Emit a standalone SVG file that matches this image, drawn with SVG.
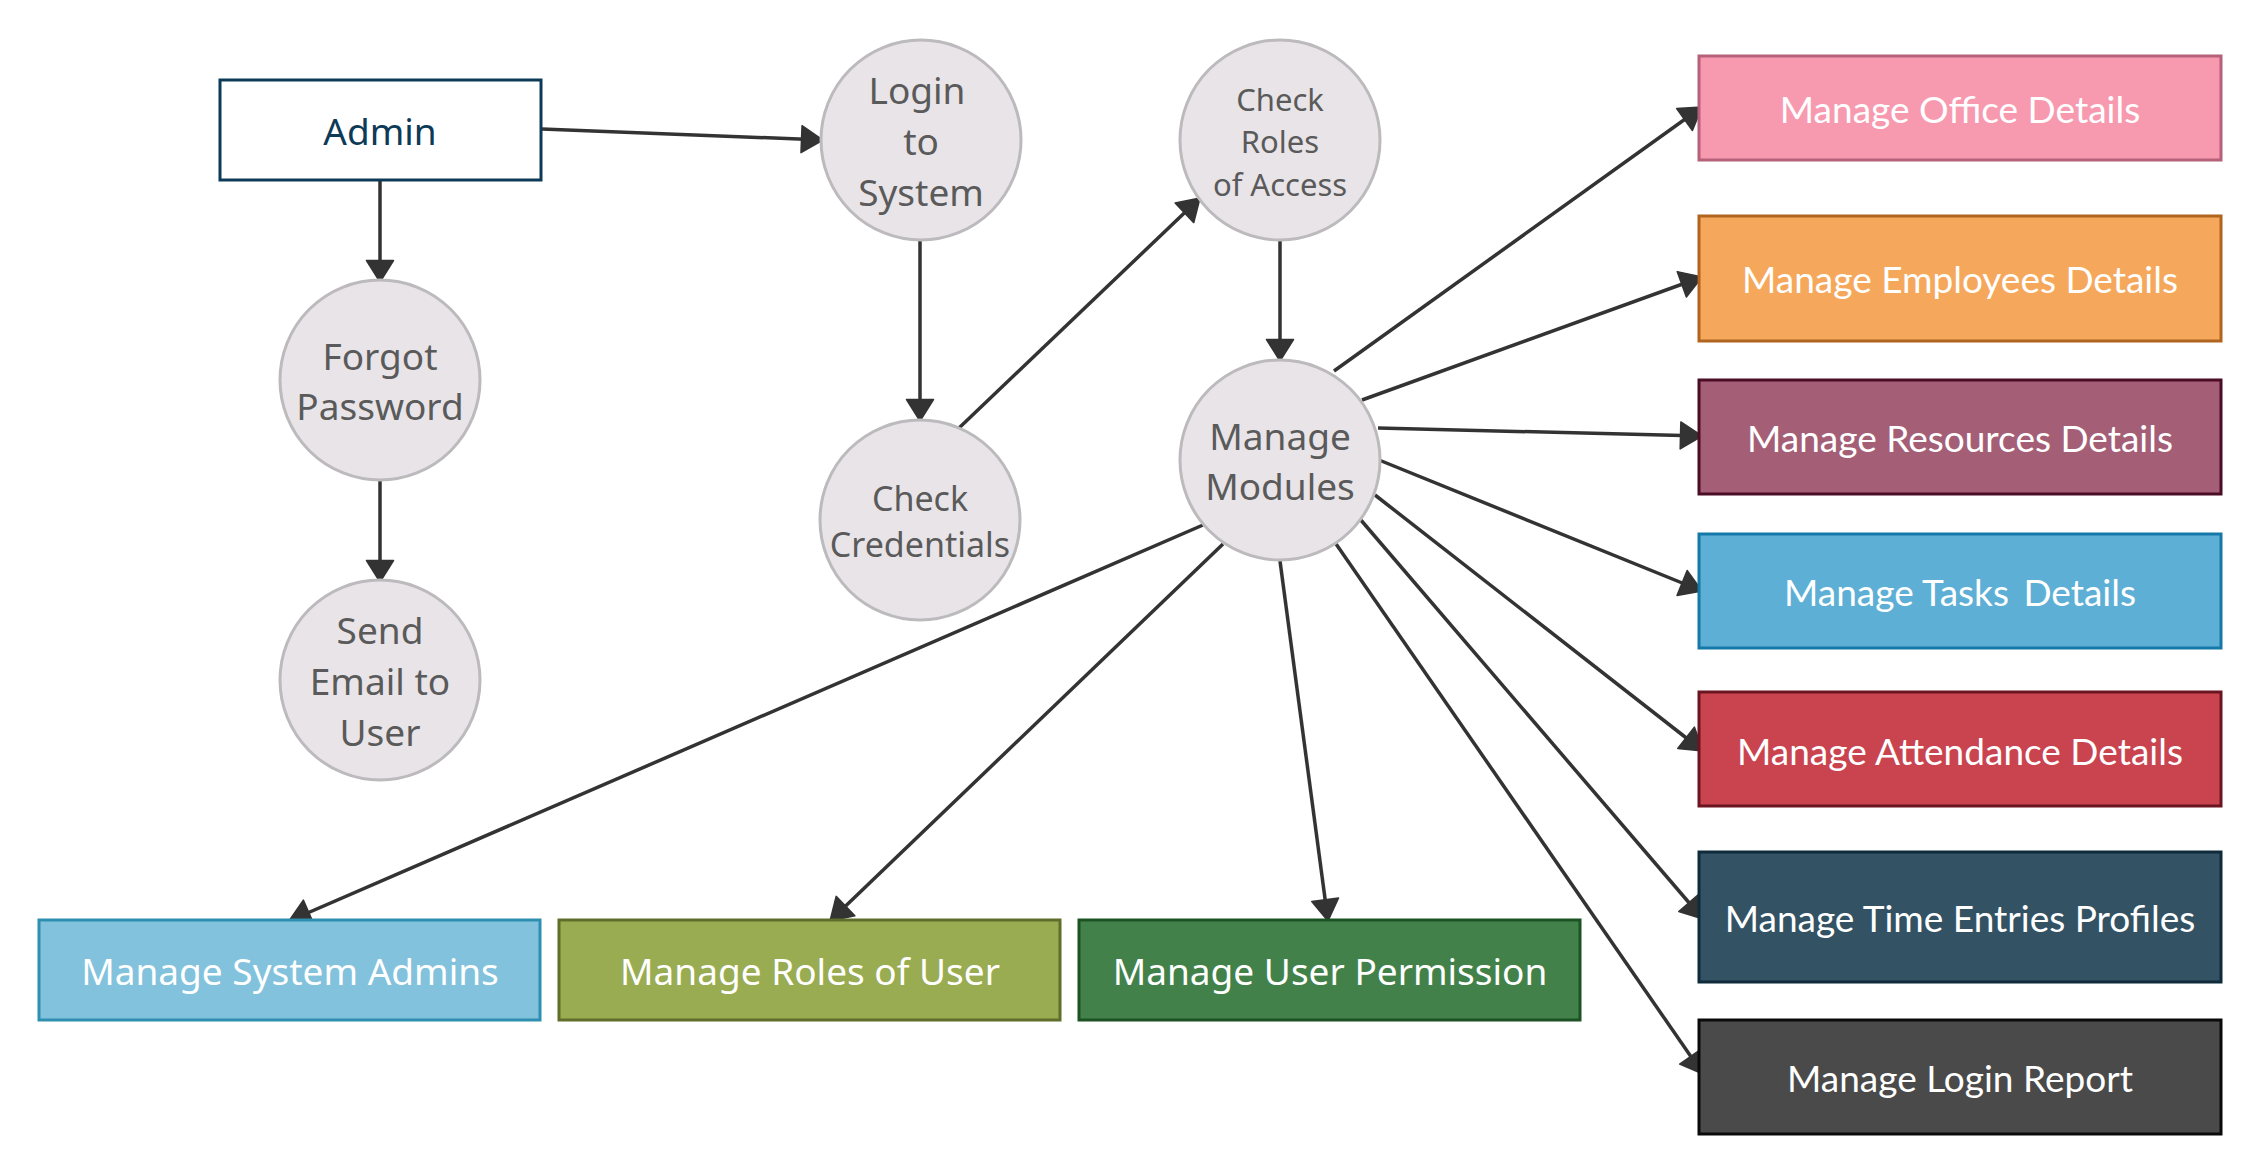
<svg xmlns="http://www.w3.org/2000/svg" width="2260" height="1174" viewBox="0 0 2260 1174">
<defs>
<marker id="arr" markerUnits="userSpaceOnUse" markerWidth="26" markerHeight="30" refX="23" refY="15" orient="auto">
<path d="M1.5,1.5 L23,15 L1.5,28.5 z" fill="#333333" stroke="#333333" stroke-width="1.5" stroke-linejoin="round"/>
</marker>
<style>
.proc{fill:#e8e4e8;stroke:#bcbabc;stroke-width:3}
.ptxt{font-family:"Noto Sans","Open Sans",sans-serif;fill:#5a5a5a;text-anchor:middle;dominant-baseline:central}
.btxt{font-family:"Noto Sans","Open Sans",sans-serif;fill:#ffffff;text-anchor:middle;dominant-baseline:central;font-size:37px}
.rtxt{font-family:Lato,"Noto Sans",sans-serif;fill:#ffffff;text-anchor:middle;dominant-baseline:central;font-size:37px}
.edge{fill:none;stroke:#333333;stroke-width:3.5;marker-end:url(#arr)}
</style>
</defs>
<rect width="2260" height="1174" fill="#ffffff"/>

<g id="connectors">
<line class="edge" x1="542" y1="129" x2="823" y2="140"/>
<line class="edge" x1="380" y1="181" x2="380" y2="282"/>
<line class="edge" x1="380" y1="481" x2="380" y2="582"/>
<line class="edge" x1="920" y1="241" x2="920" y2="421"/>
<line class="edge" x1="959" y1="428" x2="1200" y2="198"/>
<line class="edge" x1="1280" y1="241" x2="1280" y2="361"/>
<line class="edge" x1="1334" y1="371" x2="1702" y2="107"/>
<line class="edge" x1="1362" y1="400" x2="1702" y2="277"/>
<line class="edge" x1="1378" y1="428" x2="1702" y2="436"/>
<line class="edge" x1="1379" y1="460" x2="1702" y2="591"/>
<line class="edge" x1="1375" y1="495" x2="1703" y2="751"/>
<line class="edge" x1="1360" y1="519" x2="1703" y2="919"/>
<line class="edge" x1="1334" y1="541" x2="1703" y2="1074"/>
<line class="edge" x1="1203" y1="525" x2="289" y2="921"/>
<line class="edge" x1="1223" y1="544" x2="830" y2="921"/>
<line class="edge" x1="1280" y1="561" x2="1328" y2="921"/>
</g>

<g id="admin">
<rect x="220" y="80" width="321" height="100" fill="#ffffff" stroke="#0c3a57" stroke-width="3"/>
<text x="380" y="130" class="ptxt" style="fill:#0c3a57;font-size:37px">Admin</text>
</g>

<g id="login">
<circle cx="921" cy="140" r="100" class="proc"/>
<text class="ptxt" style="font-size:37px"><tspan x="917" y="89">Login</tspan><tspan x="921" y="140">to</tspan><tspan x="921" y="191">System</tspan></text>
</g>

<g id="forgot">
<circle cx="380" cy="380" r="100" class="proc"/>
<text class="ptxt" style="font-size:37px"><tspan x="380" y="355">Forgot</tspan><tspan x="380" y="405">Password</tspan></text>
</g>

<g id="sendemail">
<circle cx="380" cy="680" r="100" class="proc"/>
<text class="ptxt" style="font-size:37px"><tspan x="380" y="629">Send</tspan><tspan x="380" y="680">Email to</tspan><tspan x="380" y="731">User</tspan></text>
</g>

<g id="checkcred">
<circle cx="920" cy="520" r="100" class="proc"/>
<text class="ptxt" style="font-size:34px"><tspan x="920" y="498">Check</tspan><tspan x="920" y="544">Credentials</tspan></text>
</g>

<g id="checkroles">
<circle cx="1280" cy="140" r="100" class="proc"/>
<text class="ptxt" style="font-size:31px"><tspan x="1280" y="99">Check</tspan><tspan x="1280" y="141">Roles</tspan><tspan x="1280" y="184">of Access</tspan></text>
</g>

<g id="modules">
<circle cx="1280" cy="460" r="100" class="proc"/>
<text class="ptxt" style="font-size:37px"><tspan x="1280" y="435">Manage</tspan><tspan x="1280" y="485">Modules</tspan></text>
</g>

<g id="office">
<rect x="1699" y="56" width="522" height="104" fill="#f79ab0" stroke="#b5617a" stroke-width="3"/>
<text x="1960" y="108" class="rtxt">Manage Office Details</text>
</g>
<g id="employees">
<rect x="1699" y="216" width="522" height="125" fill="#f5a85c" stroke="#b0651f" stroke-width="3"/>
<text x="1960" y="278" class="rtxt">Manage Employees Details</text>
</g>
<g id="resources">
<rect x="1699" y="380" width="522" height="114" fill="#a45f77" stroke="#4a0d24" stroke-width="3"/>
<text x="1960" y="437" class="rtxt">Manage Resources Details</text>
</g>
<g id="tasks">
<rect x="1699" y="534" width="522" height="114" fill="#5eafd5" stroke="#1478a8" stroke-width="3"/>
<text x="1960" y="591" class="rtxt">Manage Tasks <tspan dx="5">Details</tspan></text>
</g>
<g id="attendance">
<rect x="1699" y="692" width="522" height="114" fill="#c9444f" stroke="#6b1520" stroke-width="3"/>
<text x="1960" y="750" class="rtxt">Manage Attendance Details</text>
</g>
<g id="timeentries">
<rect x="1699" y="852" width="522" height="130" fill="#335264" stroke="#0f2a3b" stroke-width="3"/>
<text x="1960" y="917" class="rtxt">Manage Time Entries Profiles</text>
</g>
<g id="loginreport">
<rect x="1699" y="1020" width="522" height="114" fill="#4a4a4a" stroke="#0a0a0a" stroke-width="3"/>
<text x="1960" y="1077" class="rtxt">Manage Login Report</text>
</g>

<g id="sysadmins">
<rect x="39" y="920" width="501" height="100" fill="#82c2dc" stroke="#2e8fb0" stroke-width="3"/>
<text x="290" y="970" class="btxt">Manage System Admins</text>
</g>
<g id="rolesuser">
<rect x="559" y="920" width="501" height="100" fill="#9aac52" stroke="#5f6e2a" stroke-width="3"/>
<text x="810" y="970" class="btxt">Manage Roles of User</text>
</g>
<g id="userperm">
<rect x="1079" y="920" width="501" height="100" fill="#42824a" stroke="#1d5224" stroke-width="3"/>
<text x="1330" y="970" class="btxt">Manage User Permission</text>
</g>
</svg>
